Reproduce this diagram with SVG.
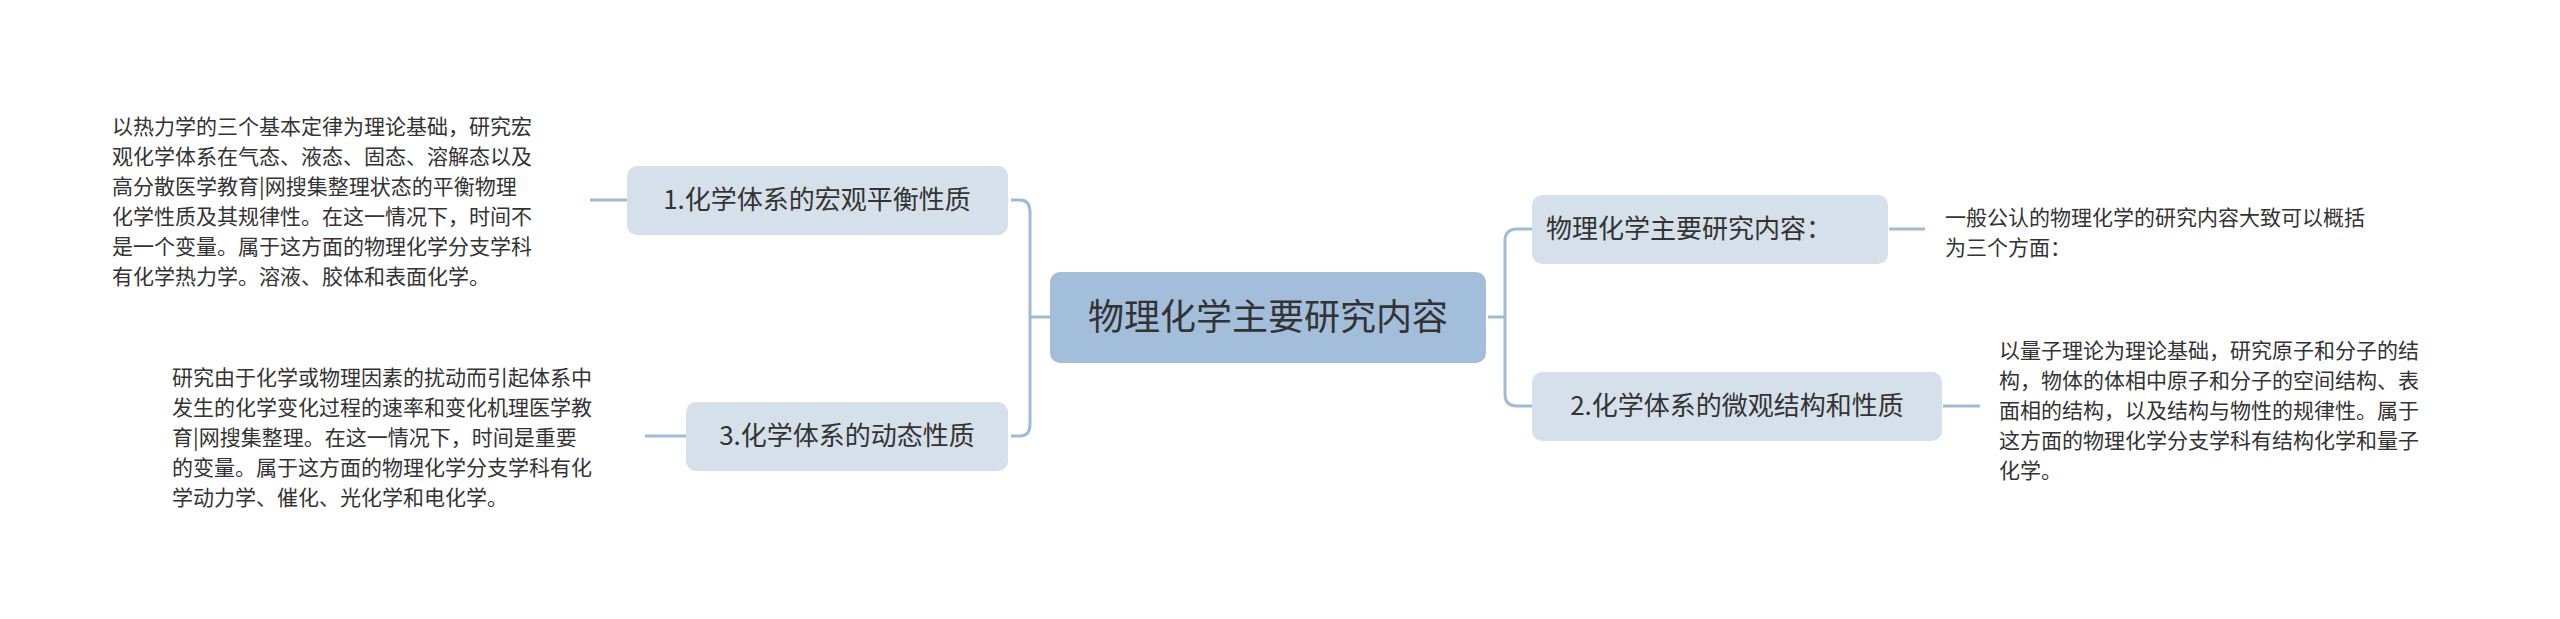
<svg xmlns="http://www.w3.org/2000/svg" width="2560" height="619" viewBox="0 0 2560 619">
<style>
.c{fill:none;stroke:#a0bbd5;stroke-width:3}
.n{fill:#d5e0ea}
.t{font-family:"Noto Sans CJK SC","Noto Sans",sans-serif;fill:#333}
.d{font-family:"Noto Sans CJK SC","Noto Sans",sans-serif;fill:#333;font-size:21px}
</style>
<rect width="2560" height="619" fill="#fff"/>
<g id="connectors">
<path class="c" d="M1053,317 H1030 M1011,200 H1020 Q1030,200 1030,212 V424 Q1030,436 1020,436 H1011"/>
<path class="c" d="M1488,317 H1505 M1533,229 H1517 Q1505,229 1505,241 V394 Q1505,406 1517,406 H1533"/>
<path class="c" d="M628,200 H590 M686,436 H645 M1889,229 H1925 M1943,406 H1980"/>
</g>
<g id="center"><rect x="1050" y="272" width="436" height="91" rx="10" fill="#a3bedb"/><text class="t" x="1268" y="330" font-size="36" text-anchor="middle">物理化学主要研究内容</text></g>
<g id="n1"><rect class="n" x="627" y="166" width="381" height="69" rx="10"/><text class="t" x="817" y="209" font-size="26" text-anchor="middle">1.化学体系的宏观平衡性质</text></g>
<g id="n3"><rect class="n" x="686" y="402" width="322" height="69" rx="10"/><text class="t" x="847" y="445" font-size="26" text-anchor="middle">3.化学体系的动态性质</text></g>
<g id="n4"><rect class="n" x="1532" y="195" width="356" height="69" rx="10"/><text class="t" x="1546" y="238" font-size="26">物理化学主要研究内容：</text></g>
<g id="n2"><rect class="n" x="1532" y="372" width="410" height="69" rx="10"/><text class="t" x="1737" y="415" font-size="26" text-anchor="middle">2.化学体系的微观结构和性质</text></g>
<g id="d1"><text class="d" x="112" y="134">以热力学的三个基本定律为理论基础，研究宏</text><text class="d" x="112" y="164">观化学体系在气态、液态、固态、溶解态以及</text><text class="d" x="112" y="194">高分散医学教育|网搜集整理状态的平衡物理</text><text class="d" x="112" y="224">化学性质及其规律性。在这一情况下，时间不</text><text class="d" x="112" y="254">是一个变量。属于这方面的物理化学分支学科</text><text class="d" x="112" y="284">有化学热力学。溶液、胶体和表面化学。</text></g>
<g id="d3"><text class="d" x="172" y="385">研究由于化学或物理因素的扰动而引起体系中</text><text class="d" x="172" y="415">发生的化学变化过程的速率和变化机理医学教</text><text class="d" x="172" y="445">育|网搜集整理。在这一情况下，时间是重要</text><text class="d" x="172" y="475">的变量。属于这方面的物理化学分支学科有化</text><text class="d" x="172" y="505">学动力学、催化、光化学和电化学。</text></g>
<g id="d4"><text class="d" x="1945" y="225">一般公认的物理化学的研究内容大致可以概括</text><text class="d" x="1945" y="255">为三个方面：</text></g>
<g id="d2"><text class="d" x="1999" y="358">以量子理论为理论基础，研究原子和分子的结</text><text class="d" x="1999" y="388">构，物体的体相中原子和分子的空间结构、表</text><text class="d" x="1999" y="418">面相的结构，以及结构与物性的规律性。属于</text><text class="d" x="1999" y="448">这方面的物理化学分支学科有结构化学和量子</text><text class="d" x="1999" y="478">化学。</text></g>
</svg>
